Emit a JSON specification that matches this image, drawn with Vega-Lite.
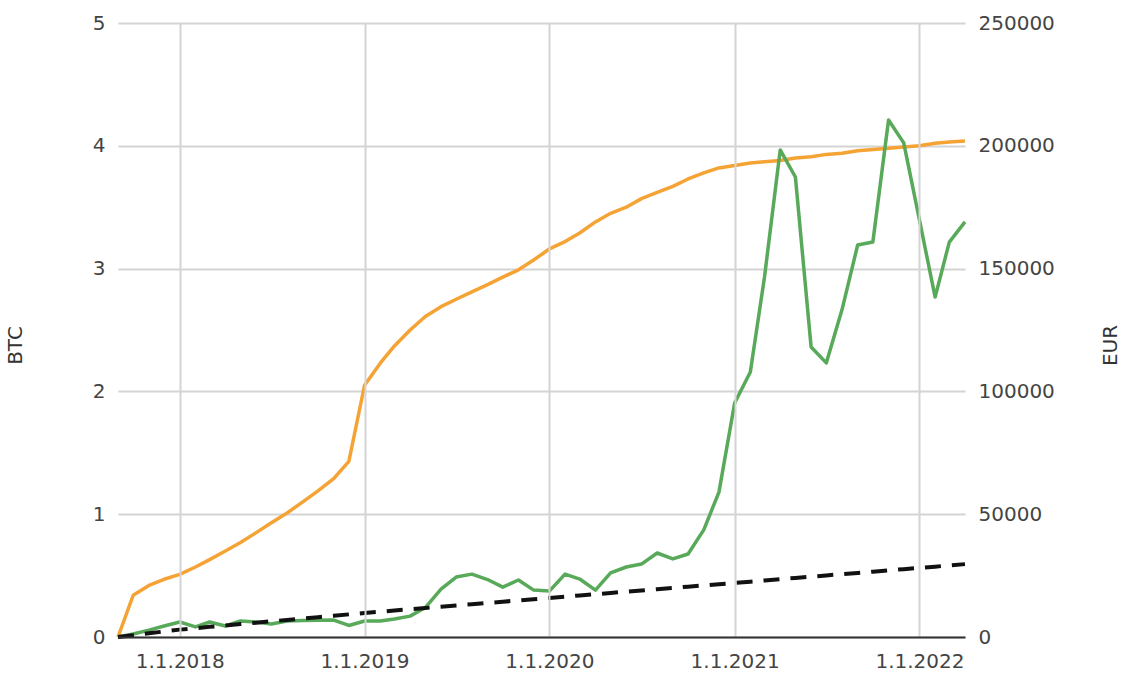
{
  "$schema": "https://vega.github.io/schema/vega-lite/v6.json",
  "width": 847,
  "height": 614,
  "autosize": "none",
  "padding": {"left": 118, "top": 23, "right": 181, "bottom": 63},
  "background": "white",
  "config": {"view": {"stroke": null}},
  "data": {
    "values": [
      {"date": "2017-09-01", "btc": 0, "value": 0, "invested": 0},
      {"date": "2017-10-01", "btc": 0.34, "value": 1200, "invested": 750},
      {"date": "2017-11-01", "btc": 0.42, "value": 2800, "invested": 1500},
      {"date": "2017-12-01", "btc": 0.47, "value": 4500, "invested": 2250},
      {"date": "2018-01-01", "btc": 0.51, "value": 6100, "invested": 3000},
      {"date": "2018-02-01", "btc": 0.57, "value": 4100, "invested": 3565},
      {"date": "2018-03-01", "btc": 0.63, "value": 6100, "invested": 4130},
      {"date": "2018-04-01", "btc": 0.70, "value": 4500, "invested": 4695},
      {"date": "2018-05-01", "btc": 0.77, "value": 6500, "invested": 5260},
      {"date": "2018-06-01", "btc": 0.85, "value": 6100, "invested": 5825},
      {"date": "2018-07-01", "btc": 0.93, "value": 5300, "invested": 6390},
      {"date": "2018-08-01", "btc": 1.01, "value": 6500, "invested": 6955},
      {"date": "2018-09-01", "btc": 1.10, "value": 6700, "invested": 7520},
      {"date": "2018-10-01", "btc": 1.19, "value": 6800, "invested": 8085},
      {"date": "2018-11-01", "btc": 1.29, "value": 6900, "invested": 8650},
      {"date": "2018-12-01", "btc": 1.43, "value": 4700, "invested": 9215},
      {"date": "2019-01-01", "btc": 2.05, "value": 6500, "invested": 9780},
      {"date": "2019-02-01", "btc": 2.23, "value": 6500, "invested": 10290},
      {"date": "2019-03-01", "btc": 2.37, "value": 7300, "invested": 10800},
      {"date": "2019-04-01", "btc": 2.50, "value": 8500, "invested": 11310},
      {"date": "2019-05-01", "btc": 2.61, "value": 12000, "invested": 11820},
      {"date": "2019-06-01", "btc": 2.69, "value": 19500, "invested": 12330},
      {"date": "2019-07-01", "btc": 2.75, "value": 24400, "invested": 12840},
      {"date": "2019-08-01", "btc": 2.81, "value": 25600, "invested": 13350},
      {"date": "2019-09-01", "btc": 2.87, "value": 23400, "invested": 13860},
      {"date": "2019-10-01", "btc": 2.93, "value": 20300, "invested": 14370},
      {"date": "2019-11-01", "btc": 2.99, "value": 23200, "invested": 14880},
      {"date": "2019-12-01", "btc": 3.07, "value": 19100, "invested": 15390},
      {"date": "2020-01-01", "btc": 3.16, "value": 18700, "invested": 15900},
      {"date": "2020-02-01", "btc": 3.22, "value": 25600, "invested": 16410},
      {"date": "2020-03-01", "btc": 3.29, "value": 23600, "invested": 16920},
      {"date": "2020-04-01", "btc": 3.38, "value": 19100, "invested": 17430},
      {"date": "2020-05-01", "btc": 3.45, "value": 26100, "invested": 17940},
      {"date": "2020-06-01", "btc": 3.50, "value": 28500, "invested": 18450},
      {"date": "2020-07-01", "btc": 3.57, "value": 29700, "invested": 18960},
      {"date": "2020-08-01", "btc": 3.62, "value": 34200, "invested": 19470},
      {"date": "2020-09-01", "btc": 3.67, "value": 31800, "invested": 19980},
      {"date": "2020-10-01", "btc": 3.73, "value": 33800, "invested": 20490},
      {"date": "2020-11-01", "btc": 3.78, "value": 43600, "invested": 21000},
      {"date": "2020-12-01", "btc": 3.82, "value": 59000, "invested": 21510},
      {"date": "2021-01-01", "btc": 3.84, "value": 95300, "invested": 22020},
      {"date": "2021-02-01", "btc": 3.86, "value": 107900, "invested": 22530},
      {"date": "2021-03-01", "btc": 3.87, "value": 146600, "invested": 23040},
      {"date": "2021-04-01", "btc": 3.88, "value": 198300, "invested": 23550},
      {"date": "2021-05-01", "btc": 3.90, "value": 187300, "invested": 24060},
      {"date": "2021-06-01", "btc": 3.91, "value": 118100, "invested": 24570},
      {"date": "2021-07-01", "btc": 3.93, "value": 111600, "invested": 25080},
      {"date": "2021-08-01", "btc": 3.94, "value": 133200, "invested": 25590},
      {"date": "2021-09-01", "btc": 3.96, "value": 159600, "invested": 26100},
      {"date": "2021-10-01", "btc": 3.97, "value": 160800, "invested": 26610},
      {"date": "2021-11-01", "btc": 3.98, "value": 210500, "invested": 27120},
      {"date": "2021-12-01", "btc": 3.99, "value": 201200, "invested": 27630},
      {"date": "2022-01-01", "btc": 4.00, "value": 169800, "invested": 28140},
      {"date": "2022-02-01", "btc": 4.02, "value": 138400, "invested": 28650},
      {"date": "2022-03-01", "btc": 4.03, "value": 160800, "invested": 29160},
      {"date": "2022-04-01", "btc": 4.04, "value": 169000, "invested": 29670}
    ]
  },
  "encoding": {
    "x": {
      "field": "date",
      "type": "temporal",
      "scale": {
        "type": "utc",
        "domain": [
          {"year": 2017, "month": 9, "date": 1, "utc": true},
          {"year": 2022, "month": 4, "date": 1, "utc": true}
        ],
        "nice": false
      },
      "axis": {
        "title": null,
        "format": "%-d.%-m.%Y",
        "tickCount": {"interval": "year", "step": 1},
        "grid": true,
        "gridColor": "#d4d4d4",
        "gridWidth": 2,
        "ticks": false,
        "labelFont": "DejaVu Sans",
        "labelFontSize": 20,
        "labelColor": "#444444",
        "labelPadding": 14,
        "labelOverlap": false,
        "labelFlush": false,
        "domainColor": "#333333",
        "domainWidth": 2,
        "zindex": 1
      }
    }
  },
  "layer": [
    {
      "mark": {"type": "line", "color": "#F5A334", "strokeWidth": 3.5, "strokeJoin": "round"},
      "encoding": {
        "y": {
          "field": "btc",
          "type": "quantitative",
          "scale": {"domain": [0, 5], "nice": false},
          "axis": {
            "orient": "left",
            "title": "BTC",
            "titleFont": "DejaVu Sans",
            "titleFontSize": 20,
            "titleFontWeight": "normal",
            "titleColor": "#333333",
            "titleAngle": -90,
            "titleAlign": "center",
            "titleBaseline": "middle",
            "titleX": -103,
            "titleY": 322,
            "values": [0, 1, 2, 3, 4, 5],
            "grid": true,
            "gridColor": "#d4d4d4",
            "gridWidth": 2,
            "ticks": false,
            "domain": false,
            "labelFont": "DejaVu Sans",
            "labelFontSize": 20,
            "labelColor": "#444444",
            "labelPadding": 13
          }
        }
      }
    },
    {
      "layer": [
        {
          "mark": {"type": "line", "color": "#58A959", "strokeWidth": 3.5, "strokeJoin": "round"},
          "encoding": {
            "y": {
              "field": "value",
              "type": "quantitative",
              "scale": {"domain": [0, 250000], "nice": false},
              "axis": {
                "orient": "right",
                "title": "EUR",
                "titleFont": "DejaVu Sans",
                "titleFontSize": 20,
                "titleFontWeight": "normal",
                "titleColor": "#333333",
                "titleAngle": -90,
                "titleAlign": "center",
                "titleBaseline": "middle",
                "titleX": 145,
                "titleY": 322,
                "values": [0, 50000, 100000, 150000, 200000, 250000],
                "format": "d",
                "grid": false,
                "ticks": false,
                "domain": false,
                "labelFont": "DejaVu Sans",
                "labelFontSize": 20,
                "labelColor": "#444444",
                "labelPadding": 13
              }
            }
          }
        },
        {
          "mark": {"type": "line", "color": "#111111", "strokeWidth": 4, "strokeDash": [16, 11]},
          "encoding": {
            "y": {
              "field": "invested",
              "type": "quantitative",
              "scale": {"domain": [0, 250000], "nice": false},
              "axis": {
                "orient": "right",
                "title": "EUR",
                "titleFont": "DejaVu Sans",
                "titleFontSize": 20,
                "titleFontWeight": "normal",
                "titleColor": "#333333",
                "titleAngle": -90,
                "titleAlign": "center",
                "titleBaseline": "middle",
                "titleX": 145,
                "titleY": 322,
                "values": [0, 50000, 100000, 150000, 200000, 250000],
                "format": "d",
                "grid": false,
                "ticks": false,
                "domain": false,
                "labelFont": "DejaVu Sans",
                "labelFontSize": 20,
                "labelColor": "#444444",
                "labelPadding": 13
              }
            }
          }
        }
      ]
    }
  ],
  "resolve": {"scale": {"y": "independent"}}
}
